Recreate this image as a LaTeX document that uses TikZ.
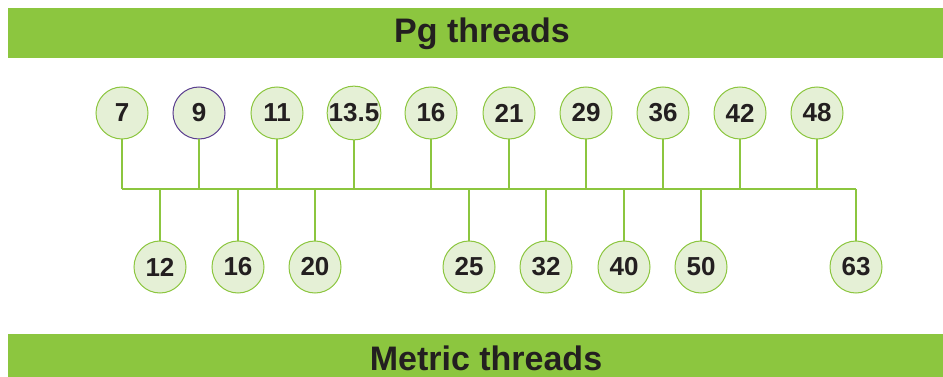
\documentclass[tikz,border=0pt]{standalone}
\usepackage{fontspec}
\setmainfont{Liberation Sans}
\definecolor{bargreen}{HTML}{8CC63F}
\definecolor{circfill}{HTML}{E5F0D6}
\definecolor{txt}{HTML}{231F20}
\definecolor{purp}{HTML}{5B3F8F}
\begin{document}
\begin{tikzpicture}[x=1pt,y=-1pt,
  bar/.style={fill=bargreen,draw=none},
  title/.style={font=\fontsize{34}{36}\selectfont\bfseries,text=txt},
  num/.style={circle,draw=bargreen,line width=1pt,fill=circfill,minimum size=52pt,inner sep=0pt,font=\fontsize{26}{28}\selectfont\bfseries,text=txt},
  stem/.style={draw=bargreen,line width=1.6pt},
  spine/.style={draw=bargreen,line width=2.4pt}]
\useasboundingbox (0,0) rectangle (943,377);
\fill[bar] (8,8) rectangle (943,58);
\node[title] (t1) at (482,34) {Pg threads};
\fill[bar] (8,334) rectangle (943,377);
\node[title] (t2) at (486,358) {Metric threads};
% top circles
\node[num] (a1) at (122,113) {7};
\node[num,draw=purp] (a2) at (199,113) {9};
\node[num] (a3) at (277,113) {11};
\node[num] (a4) at (354,113) {13.5};
\node[num] (a5) at (431,113) {16};
\node[num] (a6) at (509,113) {21};
\node[num] (a7) at (586,113) {29};
\node[num] (a8) at (663,113) {36};
\node[num] (a9) at (740,113) {42};
\node[num] (a10) at (817,113) {48};
% bottom circles
\node[num] (b1) at (160,267) {12};
\node[num] (b2) at (238,267) {16};
\node[num] (b3) at (315,267) {20};
\node[num] (b4) at (469,267) {25};
\node[num] (b5) at (546,267) {32};
\node[num] (b6) at (624,267) {40};
\node[num] (b7) at (701,267) {50};
\node[num] (b8) at (856,267) {63};
% spine
\coordinate (sl) at (122,189);
\coordinate (sr) at (856,189);
\path[spine] (sl) -- (sr);
\foreach \n in {a1,a2,a3,a4,a5,a6,a7,a8,a9,a10}{
  \path[stem] (\n.south) -- (\n.south |- sl);
}
\foreach \n in {b1,b2,b3,b4,b5,b6,b7,b8}{
  \path[stem] (\n.north) -- (\n.north |- sl);
}
\end{tikzpicture}
\end{document}
